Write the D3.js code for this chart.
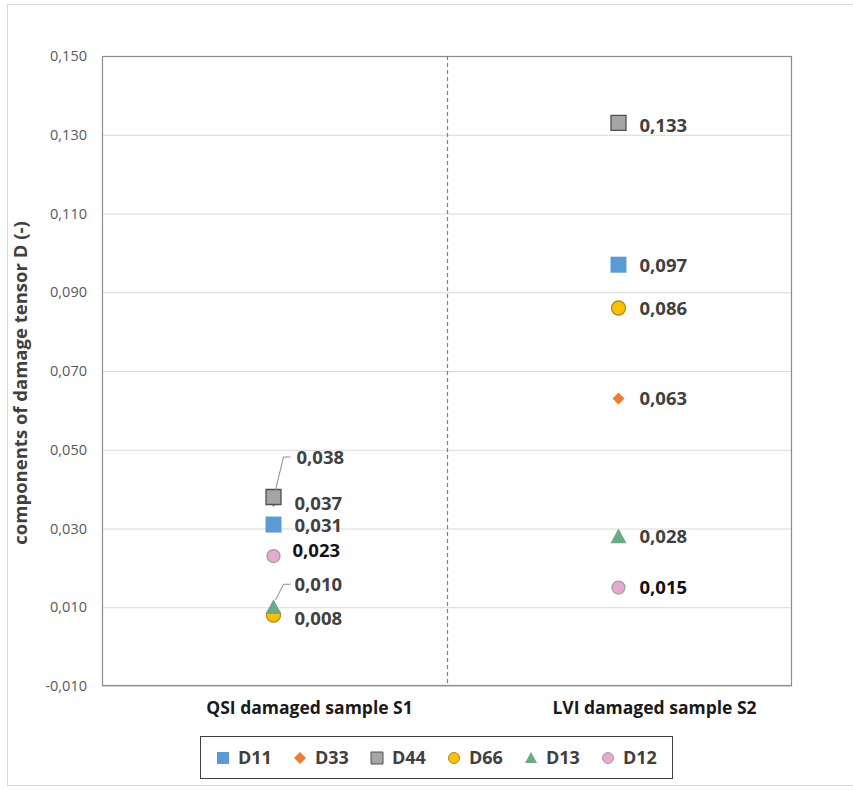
<!DOCTYPE html>
<html><head><meta charset="utf-8">
<script src="https://cdn.jsdelivr.net/npm/d3@7"></script>
<style>body{margin:0;background:#fff}svg{display:block}</style>
</head><body>
<svg id="chart" width="853" height="790"></svg>
<script>
const categories = ["QSI damaged sample S1", "LVI damaged sample S2"];
const seriesNames = ["D11", "D33", "D44", "D66", "D13", "D12"];
const D11 = [0.031, 0.097];
const D33 = [0.037, 0.063];
const D44 = [0.038, 0.133];
const D66 = [0.008, 0.086];
const D13 = [0.010, 0.028];
const D12 = [0.023, 0.015];
const yTicks = [-0.010, 0.010, 0.030, 0.050, 0.070, 0.090, 0.110, 0.130, 0.150];
const yTitle = "components of damage tensor D (-)";

const values = {D11, D33, D44, D66, D13, D12};
const styles = {
  D11: {shape: "square", fill: "#5b9bd5", stroke: "none", size: 16},
  D33: {shape: "diamond", fill: "#ed7d31", stroke: "none", size: 12},
  D44: {shape: "square", fill: "#a5a5a5", stroke: "#505050", size: 15},
  D66: {shape: "circle", fill: "#ffc000", stroke: "#b08a1a", size: 14},
  D13: {shape: "triangle", fill: "#6aab84", stroke: "none", size: 16},
  D12: {shape: "circle", fill: "#e8a9d0", stroke: "#a0a0a0", size: 13}
};
// label offsets (layout): [dx, dy, leader?, color]
const labelLayout = {
  "D11|0": [21, 1, false, "#404040"],
  "D33|0": [21, 2, false, "#404040"],
  "D44|0": [23, -40, true, "#404040"],
  "D66|0": [21, 3, false, "#404040"],
  "D13|0": [21, -23, true, "#404040"],
  "D12|0": [19, -6, false, "#111"],
  "D11|1": [21, 1, false, "#404040"],
  "D33|1": [21, 0, false, "#404040"],
  "D44|1": [21, 2, false, "#404040"],
  "D66|1": [21, 0, false, "#404040"],
  "D13|1": [21, 0, false, "#404040"],
  "D12|1": [21, 0, false, "#111"]
};

const svg = d3.select("#chart");
const font = "'Open Sans', 'DejaVu Sans', sans-serif";
const plot = {left: 102, right: 792, top: 56, bottom: 686};

// outer chart border
svg.append("rect").attr("x", 7.5).attr("y", 4.5).attr("width", 850).attr("height", 781)
  .attr("fill", "#fff").attr("stroke", "#d9d9d9").attr("stroke-width", 1);

const x = d3.scaleBand().domain(categories).range([plot.left, plot.right]).padding(0);
const y = d3.scaleLinear().domain([-0.01, 0.15]).range([plot.bottom, plot.top]);
const fmt = v => d3.format(".3f")(v).replace(".", ",").replace("\u2212", "-");

// gridlines
const yAxis = d3.axisLeft(y).tickValues(yTicks).tickFormat(fmt)
  .tickSize(-(plot.right - plot.left)).tickPadding(15);
const gy = svg.append("g").attr("transform", `translate(${plot.left},0)`).call(yAxis);
gy.select(".domain").remove();
gy.selectAll(".tick line").attr("stroke", "#d9d9d9").attr("stroke-width", 1);
gy.selectAll(".tick text").attr("font-family", font).attr("font-size", 14.5)
  .attr("fill", "#595959");

// plot border
svg.append("rect").attr("x", plot.left + 0.5).attr("y", plot.top + 0.5)
  .attr("width", plot.right - plot.left - 1).attr("height", plot.bottom - plot.top - 1)
  .attr("fill", "none").attr("stroke", "#8c8c8c").attr("stroke-width", 1.2);

// dashed separator between categories
const sepX = x(categories[1]);
svg.append("line").attr("x1", sepX + 0.5).attr("x2", sepX + 0.5)
  .attr("y1", plot.top).attr("y2", plot.bottom)
  .attr("stroke", "#7f7f7f").attr("stroke-width", 1.2).attr("stroke-dasharray", "4,3");

// category labels
const xAxis = d3.axisBottom(x).tickSize(0).tickPadding(16);
const gx = svg.append("g").attr("transform", `translate(0,${plot.bottom})`).call(xAxis);
gx.select(".domain").remove();
gx.selectAll(".tick text").attr("font-family", font).attr("font-size", 17.5)
  .attr("font-weight", "bold").attr("fill", "#1a1a1a").attr("dx", 35);

// y title
svg.append("text").attr("transform", `translate(27,383) rotate(-90)`)
  .attr("text-anchor", "middle").attr("font-family", font).attr("font-size", 18.5)
  .attr("font-weight", "bold").attr("fill", "#404040").text(yTitle);

function symbolPath(st) {
  const r = st.size / 2;
  if (st.shape === "square") return `M${-r},${-r}H${r}V${r}H${-r}Z`;
  if (st.shape === "diamond") return `M0,${-r}L${r},0L0,${r}L${-r},0Z`;
  if (st.shape === "triangle") return `M0,${-r}L${r},${r * 0.85}L${-r},${r * 0.85}Z`;
  return d3.arc()({innerRadius: 0, outerRadius: r, startAngle: 0, endAngle: 2 * Math.PI});
}

// markers
const cx = c => x(c) + x.bandwidth() / 2 - 1;
seriesNames.forEach(name => {
  const st = styles[name];
  svg.append("g").selectAll("path").data(values[name]).join("path")
    .attr("transform", (d, i) => `translate(${cx(categories[i])},${y(d)})`)
    .attr("d", symbolPath(st))
    .attr("fill", st.fill).attr("stroke", st.stroke).attr("stroke-width", 1.3);
});

// data labels
seriesNames.forEach(name => {
  values[name].forEach((d, i) => {
    const [dx, dy, leader, color] = labelLayout[name + "|" + i];
    const mx = cx(categories[i]), my = y(d);
    const lx = mx + dx, ly = my + dy;
    if (leader) {
      svg.append("polyline")
        .attr("points", `${mx + 2},${my - 7} ${mx + 10},${ly} ${mx + 17},${ly}`)
        .attr("fill", "none").attr("stroke", "#8c8c8c").attr("stroke-width", 1);
    }
    svg.append("text").attr("x", lx).attr("y", ly).attr("dy", "0.36em")
      .attr("font-family", font).attr("font-size", 18.5).attr("font-weight", "bold")
      .attr("fill", color).text(fmt(d));
  });
});

// legend
const legend = svg.append("g");
legend.append("rect").attr("x", 200.5).attr("y", 736.5).attr("width", 472).attr("height", 42)
  .attr("fill", "#fff").attr("stroke", "#404040").attr("stroke-width", 1);
const legendX = d3.scalePoint().domain(seriesNames).range([223, 608]);
seriesNames.forEach(name => {
  const st = Object.assign({}, styles[name]);
  st.size = Math.min(st.size, 12) - (st.shape === "circle" ? 1 : 0);
  const g = legend.append("g").attr("transform", `translate(${legendX(name)},758)`);
  g.append("path").attr("d", symbolPath(st)).attr("fill", st.fill)
    .attr("stroke", st.stroke).attr("stroke-width", 1);
  g.append("text").attr("x", 15).attr("dy", "0.36em").attr("font-family", font)
    .attr("font-size", 18).attr("font-weight", "bold").attr("fill", "#404040").text(name);
});
</script>
</body></html>
